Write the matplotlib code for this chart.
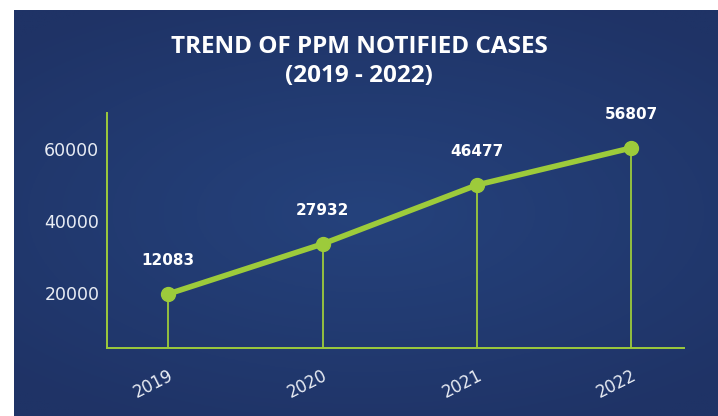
import matplotlib.pyplot as plt
import numpy as np

# data
years = ["2019", "2020", "2021", "2022"]
cases = [12083, 27932, 46477, 56807]          # printed labels
plot_level = [19700, 33600, 50000, 60300]     # where the points sit on the y scale
y_ticks = [20000, 40000, 60000]

green = "#9dcb3b"

fig = plt.figure(figsize=(7.18, 4.16), dpi=100)
fig.patch.set_facecolor("white")

# blue panel with a soft radial glow
bg = fig.add_axes([14 / 718, 0, 704 / 718, 406 / 416])
gx, gy = np.meshgrid(np.linspace(-1, 1, 300), np.linspace(-1, 1, 200))
r = np.clip(np.sqrt((gx * 0.9) ** 2 + (gy * 1.1) ** 2), 0, 1.3) / 1.3
c_in = np.array([0x25, 0x42, 0x7c]) / 255
c_out = np.array([0x1f, 0x33, 0x66]) / 255
img = c_in[None, None, :] * (1 - r[..., None]) + c_out[None, None, :] * r[..., None]
bg.imshow(img, aspect="auto", extent=(0, 1, 0, 1))
bg.set_axis_off()

ax = fig.add_axes([107 / 718, 68 / 416, 577 / 718, 235 / 416])
ax.set_facecolor("none")
x = np.arange(len(years))

ax.vlines(x, 4700, plot_level, color=green, lw=1.3, zorder=2)
ax.plot(x, plot_level, color=green, lw=4, marker="o", ms=10,
        solid_capstyle="round", zorder=3)

for xi, yi, c in zip(x, plot_level, cases):
    ax.annotate(str(c), (xi, yi), xytext=(0, 24), textcoords="offset points",
                ha="center", va="center", color="white", fontsize=11,
                fontweight="bold", family="DejaVu Sans")

ax.set_xlim(-0.395, 3.34)
ax.set_ylim(4700, 70000)
ax.set_yticks(y_ticks)
ax.set_yticklabels([str(v) for v in y_ticks], color="#e8ecf4", fontsize=12.5,
                   family="DejaVu Sans")
ax.set_xticks(x)
ax.set_xticklabels(years, rotation=27, ha="right", rotation_mode="anchor",
                   color="#e8ecf4", fontsize=12, family="DejaVu Sans")
ax.tick_params(axis="y", length=0, pad=5.5)
ax.tick_params(axis="x", length=0, pad=13)

for side in ["top", "right"]:
    ax.spines[side].set_visible(False)
for side in ["left", "bottom"]:
    ax.spines[side].set_color(green)
    ax.spines[side].set_linewidth(1.4)

fig.text(0.5, 1 - 47 / 416, "TREND OF PPM NOTIFIED CASES", ha="center",
         va="center", color="white", fontsize=17.5, fontweight="bold",
         family="Open Sans")
fig.text(0.5, 1 - 76 / 416, "(2019 - 2022)", ha="center", va="center",
         color="white", fontsize=17.5, fontweight="bold", family="Open Sans")

fig.savefig("out.png", dpi=100)
